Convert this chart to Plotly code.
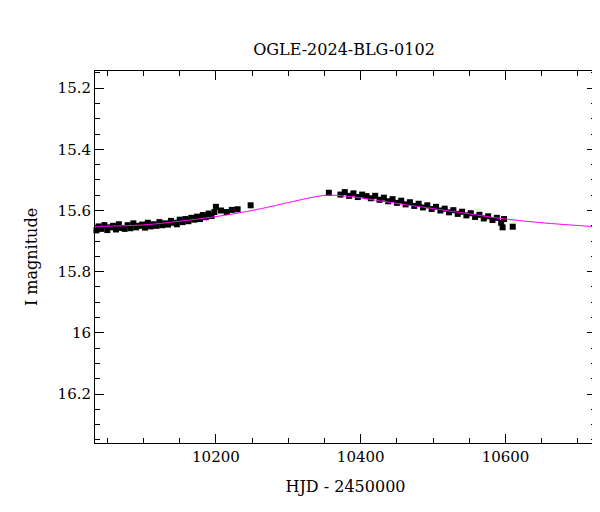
import plotly.graph_objects as go

# observed points (HJD - 2450000, I mag)
hjd = [10035, 10038, 10042, 10046, 10050, 10054, 10058, 10062, 10066, 10070, 10074, 10078,
       10082, 10086, 10090, 10094, 10098, 10102, 10106, 10110, 10114, 10118, 10122, 10126,
       10130, 10134, 10138, 10142, 10146, 10150, 10154, 10158, 10162, 10166, 10170, 10174,
       10178, 10182, 10186, 10190, 10194, 10198, 10200, 10207, 10215, 10222, 10230, 10248,
       10356, 10372, 10378, 10384, 10390, 10396, 10402, 10408, 10414, 10420, 10426, 10432,
       10438, 10444, 10450, 10456, 10462, 10468, 10474, 10480, 10486, 10492, 10498, 10504,
       10510, 10516, 10522, 10528, 10534, 10540, 10546, 10552, 10558, 10564, 10570, 10576,
       10582, 10588, 10594, 10596, 10598, 10610, 10725]
imag = [15.665, 15.652, 15.660, 15.648, 15.664, 15.655, 15.650, 15.662, 15.645, 15.657, 15.660, 15.648,
        15.658, 15.642, 15.655, 15.650, 15.646, 15.656, 15.640, 15.652, 15.645, 15.650, 15.638, 15.648,
        15.642, 15.646, 15.634, 15.640, 15.645, 15.630, 15.638, 15.628, 15.635, 15.624, 15.630, 15.620,
        15.628, 15.615, 15.622, 15.610, 15.618, 15.605, 15.588, 15.600, 15.605, 15.598, 15.596, 15.583,
        15.542, 15.548, 15.540, 15.552, 15.544, 15.556, 15.548, 15.553, 15.560, 15.552, 15.565, 15.558,
        15.570, 15.563, 15.575, 15.568, 15.580, 15.573, 15.585, 15.578, 15.590, 15.583, 15.595, 15.588,
        15.600, 15.594, 15.606, 15.599, 15.611, 15.604, 15.616, 15.609, 15.621, 15.614, 15.626, 15.619,
        15.631, 15.624, 15.640, 15.655, 15.628, 15.653, 15.662]
ierr = [0.006] * len(hjd)

# microlensing model curve
model_hjd = [10033, 10100, 10150, 10200, 10250, 10300, 10325, 10340, 10357, 10375, 10400, 10420,
             10450, 10500, 10550, 10590, 10650, 10725]
model_mag = [15.652, 15.647, 15.635, 15.620, 15.600, 15.574, 15.561, 15.554, 15.550, 15.552, 15.559, 15.566,
             15.577, 15.594, 15.611, 15.625, 15.640, 15.653]

fnt = 'DejaVu Serif'

fig = go.Figure()
fig.add_trace(go.Scatter(x=hjd, y=imag, mode='markers', cliponaxis=False,
                         marker=dict(color='black', size=6, symbol='square'),
                         error_y=dict(type='data', array=ierr, color='black', thickness=1, width=2)))
fig.add_trace(go.Scatter(x=model_hjd, y=model_mag, mode='lines',
                         line=dict(color='#ff00ff', width=1, shape='spline', smoothing=1)))

axis_common = dict(showgrid=False, zeroline=False, showline=True, linecolor='black', linewidth=1, mirror='ticks',
                   ticks='inside', ticklen=9, tickcolor='black', automargin=False,
                   tickfont=dict(family=fnt, size=15, color='black'))
fig.update_xaxes(range=[10033, 10725], tickvals=[10200, 10400, 10600], ticktext=['10200', '10400', '10600'],
                 minor=dict(dtick=50, tick0=10000, ticks='inside', ticklen=5, tickcolor='black'),
                 title=dict(text='HJD - 2450000', font=dict(family=fnt, size=16, color='black')), **axis_common)
fig.update_yaxes(range=[16.36, 15.144], tickvals=[15.2, 15.4, 15.6, 15.8, 16, 16.2],
                 ticktext=['15.2', '15.4', '15.6', '15.8', '16', '16.2'],
                 minor=dict(dtick=0.05, tick0=15, ticks='inside', ticklen=5, tickcolor='black'),
                 title=dict(text='I magnitude', font=dict(family=fnt, size=16, color='black')), **axis_common)
fig.update_layout(width=600, height=512, showlegend=False, plot_bgcolor='white', paper_bgcolor='white',
                  margin=dict(l=87, r=12, t=63, b=77, autoexpand=False),
                  title=dict(text='OGLE-2024-BLG-0102', x=0.56, xanchor='center', y=0.93,
                             font=dict(family=fnt, size=16, color='black')))
fig.write_html('out.html')
